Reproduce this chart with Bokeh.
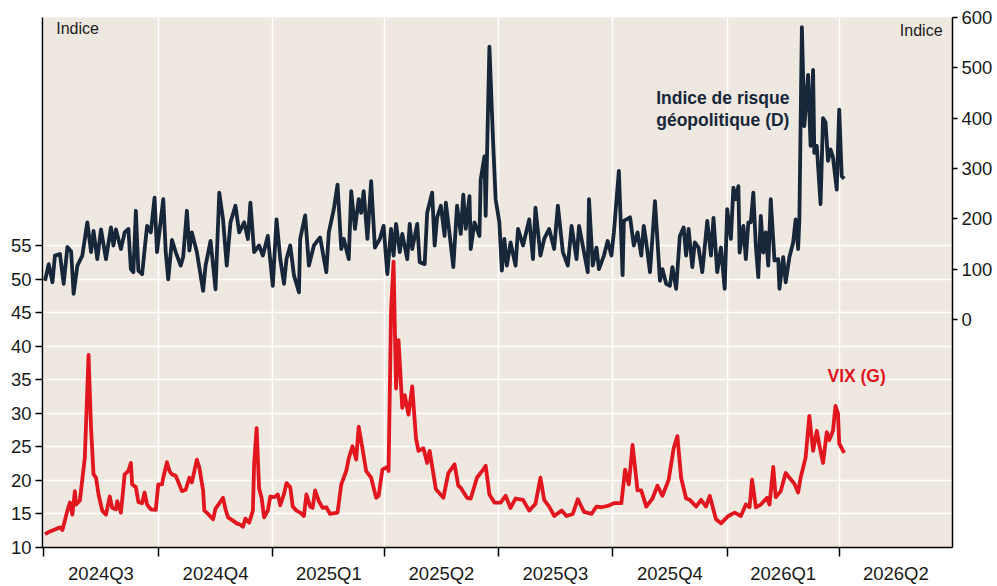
import pandas as pd
from bokeh.plotting import figure
from bokeh.models import Range1d, LinearAxis, FixedTicker, Label
from bokeh.embed import file_html
from bokeh.resources import INLINE

# ---- data; days counted from 2024-07-01 ----
day0 = "2024-07-01"

vix_day = [1, 5, 13, 15, 19, 21, 23, 25, 26, 29, 33, 36, 38, 40, 42, 44, 47, 50,
           53, 55, 58, 59, 62, 65, 68, 70, 71, 74, 76, 79, 81, 83, 86, 90, 92, 95,
           96, 99, 101, 103, 106, 108, 111, 114, 117, 119, 123, 125, 128, 129, 132,
           136, 138, 140, 144, 146, 148, 152, 155, 158, 160, 162, 165, 168, 169,
           171, 173, 175, 177, 180, 182, 185, 188, 190, 193, 195, 198, 200, 203,
           206, 209, 211, 214, 216, 218, 221, 224, 227, 230, 236, 239, 243, 245,
           248, 251, 253, 256, 259, 263, 267, 269, 272, 276, 277, 279, 281, 283,
           285, 288, 290, 293, 296, 299, 301, 305, 308, 310, 315, 321, 325, 330,
           333, 335, 340, 343, 348, 353, 355, 358, 362, 367, 371, 375, 379, 385,
           390, 395, 399, 402, 406, 410, 416, 420, 425, 429, 434, 440, 444, 448,
           453, 458, 464, 467, 470, 473, 477, 480, 484, 489, 493, 497, 502, 506,
           509, 512, 516, 519, 524, 528, 532, 535, 540, 544, 550, 555, 560, 564,
           567, 569, 572, 576, 581, 583, 586, 588, 592, 596, 599, 603, 606, 608,
           612, 615, 618, 621, 623, 626, 629, 631, 634, 636, 638, 639, 643]
vix = [12.0, 12.4, 13.0, 12.6, 15.5, 16.7, 14.9, 18.4, 16.4, 17.0, 23.4, 38.7,
       27.8, 20.9, 20.4, 17.9, 15.5, 14.9, 17.6, 15.9, 15.7, 16.9, 15.2, 20.9,
       21.4, 22.6, 19.4, 19.0, 16.8, 16.6, 18.2, 16.4, 15.7, 15.6, 19.4, 19.4,
       20.4, 22.7, 21.4, 20.9, 20.7, 19.8, 18.4, 18.6, 20.4, 19.7, 23.1, 21.9,
       18.5, 15.5, 15.0, 14.2, 15.8, 16.3, 17.4, 15.7, 14.5, 14.0, 13.6, 13.4,
       13.1, 14.3, 13.7, 15.5, 22.4, 27.8, 18.8, 17.4, 14.5, 15.5, 17.6, 17.5,
       17.9, 16.3, 18.0, 19.6, 19.0, 16.1, 15.5, 15.2, 14.7, 17.9, 16.1, 15.9,
       18.5, 16.9, 15.9, 16.0, 15.0, 15.2, 19.4, 21.4, 23.3, 25.1, 23.1, 28.0,
       24.8, 21.4, 20.4, 17.4, 17.7, 21.6, 22.0, 21.4, 45.2, 52.6, 33.7, 40.9,
       30.8, 32.7, 29.8, 34.0, 26.3, 24.4, 24.8, 22.6, 24.4, 18.7, 17.4, 21.1,
       22.4, 19.2, 18.9, 17.4, 17.3, 20.4, 21.6, 22.2, 17.9, 16.7, 16.7, 17.7,
       15.9, 17.3, 17.1, 15.5, 16.5, 20.4, 17.1, 16.1, 14.7, 15.5, 14.7, 15.0,
       17.2, 15.3, 15.0, 16.1, 16.0, 16.2, 16.6, 16.6, 21.6, 19.4, 25.3, 18.5,
       18.5, 16.1, 17.3, 19.2, 17.7, 20.1, 24.8, 26.6, 20.4, 17.3, 17.1, 16.1,
       17.1, 16.1, 17.7, 14.2, 13.6, 14.7, 15.2, 14.7, 16.4, 16.0, 20.1, 16.0,
       16.4, 17.4, 16.4, 22.0, 17.5, 18.4, 21.1, 20.4, 19.5, 18.2, 20.4, 23.4,
       29.6, 24.4, 27.4, 25.3, 22.6, 27.2, 26.0, 27.4, 31.1, 30.0, 25.5, 24.1]

gpr_day = [1, 4, 7, 9, 13, 16, 19, 22, 24, 27, 31, 35, 38, 40, 43, 46, 50, 54,
           56, 58, 62, 65, 68, 70, 72, 74, 76, 79, 83, 86, 89, 91, 96, 98, 100,
           103, 106, 110, 112, 115, 117, 119, 123, 128, 130, 134, 138, 141, 144,
           147, 150, 154, 157, 161, 164, 166, 169, 173, 176, 180, 184, 187, 190,
           193, 195, 198, 201, 205, 206, 210, 213, 217, 222, 227, 229, 233, 236,
           239, 241, 245, 247, 250, 253, 255, 257, 260, 263, 266, 270, 273, 276,
           279, 281, 283, 286, 288, 292, 294, 296, 300, 302, 306, 308, 312, 314,
           316, 319, 322, 323, 326, 329, 332, 335, 337, 339, 342, 343, 346, 350,
           351, 354, 355, 358, 361, 363, 366, 368, 370, 372, 375, 379, 381, 385,
           390, 393, 395, 399, 402, 406, 410, 413, 417, 421, 424, 428, 430, 434,
           437, 438, 441, 444, 446, 450, 453, 456, 458, 462, 465, 466, 471, 474,
           477, 480, 482, 484, 487, 491, 495, 497, 500, 503, 505, 508, 511, 514,
           516, 518, 521, 523, 526, 529, 533, 536, 538, 541, 544, 547, 549, 552,
           554, 556, 558, 559, 562, 564, 566, 568, 570, 572, 574, 576, 578, 580,
           582, 584, 587, 590, 591, 594, 596, 599, 602, 604, 606, 607, 609, 611,
           614, 616, 618, 619, 621, 624, 626, 628, 630, 632, 634, 637, 639, 641,
           643]
gpr = [77, 110, 74, 127, 130, 71, 144, 135, 51, 107, 127, 193, 134, 176, 120,
       179, 120, 183, 147, 179, 140, 173, 180, 100, 94, 216, 97, 90, 186, 173,
       242, 134, 239, 134, 80, 158, 134, 107, 124, 216, 137, 173, 134, 57, 107,
       156, 60, 252, 199, 107, 193, 226, 173, 193, 160, 232, 134, 147, 127, 166,
       67, 199, 120, 71, 120, 147, 88, 54, 160, 207, 107, 147, 163, 94, 173, 219,
       268, 140, 160, 120, 255, 180, 239, 212, 255, 160, 275, 143, 160, 186, 90,
       180, 127, 190, 134, 170, 120, 190, 140, 190, 114, 110, 212, 252, 147, 203,
       226, 166, 232, 170, 104, 226, 170, 248, 180, 245, 140, 193, 166, 278, 324,
       206, 542, 351, 239, 193, 97, 160, 107, 153, 107, 180, 147, 199, 120, 222,
       127, 160, 180, 140, 226, 134, 107, 186, 120, 186, 134, 94, 239, 107, 143,
       100, 127, 156, 127, 173, 295, 88, 196, 203, 147, 173, 127, 186, 153, 94,
       235, 77, 100, 71, 67, 104, 61, 166, 183, 127, 180, 104, 153, 143, 94, 196,
       127, 202, 94, 143, 61, 219, 160, 262, 239, 265, 133, 186, 120, 193, 193,
       252, 147, 84, 206, 133, 173, 107, 239, 117, 120, 61, 124, 74, 124, 153,
       199, 140, 199, 581, 384, 486, 345, 496, 331, 345, 229, 400, 392, 315, 338,
       322, 258, 417, 285, 280]

quarter_starts = ["2024-07-01", "2024-10-01", "2025-01-01", "2025-04-01",
                  "2025-07-01", "2025-10-01", "2026-01-01", "2026-04-01"]
quarter_ends = ["2024-10-01", "2025-01-01", "2025-04-01", "2025-07-01",
                "2025-10-01", "2026-01-01", "2026-04-01", "2026-07-01"]
quarter_labels = ["2024Q3", "2024Q4", "2025Q1", "2025Q2",
                  "2025Q3", "2025Q4", "2026Q1", "2026Q2"]

left_ticks = [10, 15, 20, 25, 30, 35, 40, 45, 50, 55]
right_ticks = [0, 100, 200, 300, 400, 500, 600]

NAVY = "#172739"
RED = "#E1161F"
BG = "#EEE8E1"
FONT = "Liberation Sans"


def ms(d):
    return pd.Timestamp(d).value // 10**6


base = pd.Timestamp(day0)
vix_dates = [base + pd.Timedelta(days=d) for d in vix_day]
gpr_dates = [base + pd.Timedelta(days=d) for d in gpr_day]

starts_ms = [ms(d) for d in quarter_starts]
mids_ms = [(ms(a) + ms(b)) / 2 for a, b in zip(quarter_starts, quarter_ends)]

p = figure(width=997, height=586, x_axis_type="datetime",
           x_range=Range1d(ms("2024-06-30"), ms("2026-07-01")),
           y_range=Range1d(10, 89),
           output_backend="svg", toolbar_location=None,
           background_fill_color=BG, border_fill_color="white",
           outline_line_color=None,
           min_border_left=42, min_border_top=17,
           min_border_right=45, min_border_bottom=35)

p.extra_y_ranges = {"right": Range1d(-453, 600)}

# grids
xt = FixedTicker(ticks=mids_ms, minor_ticks=starts_ms)
p.xgrid.ticker = xt
p.xgrid.grid_line_color = None
p.xgrid.minor_grid_line_color = "white"
p.xgrid.minor_grid_line_width = 1.5
p.ygrid.ticker = FixedTicker(ticks=left_ticks)
p.ygrid.grid_line_color = "white"
p.ygrid.grid_line_width = 1.5

# bottom axis
xa = p.xaxis[0]
xa.ticker = xt
xa.major_label_overrides = {m: l for m, l in zip(mids_ms, quarter_labels)}
xa.major_tick_out = 0
xa.major_tick_in = 0
xa.minor_tick_out = 9
xa.minor_tick_in = 0
xa.minor_tick_line_color = "black"
xa.minor_tick_line_width = 1.5
xa.axis_line_color = "black"
xa.axis_line_width = 1.5
xa.major_label_standoff = 6
xa.major_label_text_font = FONT
xa.major_label_text_font_size = "18.5px"
xa.major_label_text_color = "#1a1a1a"

# left axis
ya = p.yaxis[0]
ya.ticker = FixedTicker(ticks=left_ticks)
ya.major_tick_out = 7
ya.major_tick_in = 0
ya.minor_tick_out = 0
ya.minor_tick_in = 0
ya.major_tick_line_width = 1.5
ya.axis_line_width = 1.5
ya.major_label_standoff = 4
ya.major_label_text_font = FONT
ya.major_label_text_font_size = "18.5px"
ya.major_label_text_color = "#1a1a1a"

# right axis
ra = LinearAxis(y_range_name="right", ticker=FixedTicker(ticks=right_ticks))
ra.major_tick_out = 5
ra.major_tick_in = 0
ra.minor_tick_out = 0
ra.minor_tick_in = 0
ra.major_tick_line_width = 1.5
ra.axis_line_width = 1.5
ra.major_label_standoff = 4
ra.major_label_text_font = FONT
ra.major_label_text_font_size = "18.5px"
ra.major_label_text_color = "#1a1a1a"
p.add_layout(ra, "right")

# series
p.line(gpr_dates, gpr, y_range_name="right", line_color=NAVY, line_width=3.8,
       line_join="round")
p.line(vix_dates, vix, line_color=RED, line_width=3.8, line_join="round")

# texts
p.add_layout(Label(x=ms("2024-07-11"), y=87.4, text="Indice",
                   text_font=FONT, text_font_size="16px", text_color="#1a1a1a",
                   text_baseline="middle", text_align="left"))
p.add_layout(Label(x=ms("2026-06-23"), y=87.0, text="Indice",
                   text_font=FONT, text_font_size="16px", text_color="#1a1a1a",
                   text_baseline="middle", text_align="right"))
p.add_layout(Label(x=ms("2026-02-20"), y=440, y_range_name="right",
                   text="Indice de risque", text_font=FONT,
                   text_font_size="17.5px", text_font_style="bold",
                   text_color=NAVY, text_baseline="middle", text_align="right"))
p.add_layout(Label(x=ms("2026-02-20"), y=397, y_range_name="right",
                   text="géopolitique (D)", text_font=FONT,
                   text_font_size="17.5px", text_font_style="bold",
                   text_color=NAVY, text_baseline="middle", text_align="right"))
p.add_layout(Label(x=ms("2026-04-15"), y=35.5, text="VIX (G)", text_font=FONT,
                   text_font_size="17.5px", text_font_style="bold",
                   text_color=RED, text_baseline="middle", text_align="center"))

open("out.html", "w").write(file_html(p, INLINE))
